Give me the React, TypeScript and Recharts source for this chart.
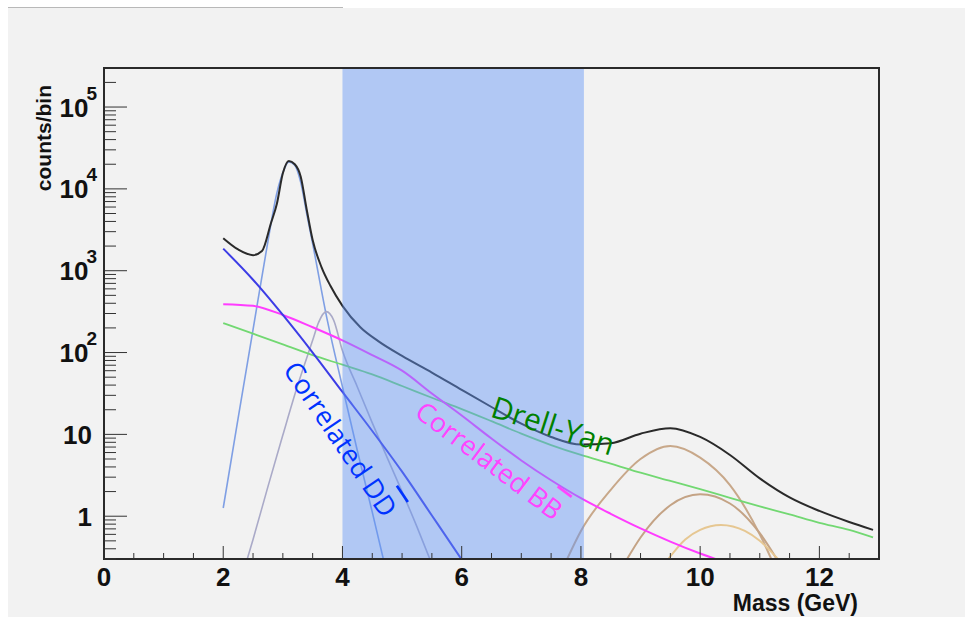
import React from "react";
import { ComposedChart, Line, XAxis, YAxis, ReferenceArea, ReferenceDot } from "recharts";

// ---- data (mass in GeV, counts/bin) ----
const totalSpectrum = [
  { m: 2.0, v: 2500 }, { m: 2.25, v: 1820 }, { m: 2.5, v: 1550 }, { m: 2.65, v: 1740 },
  { m: 2.8, v: 3800 }, { m: 2.9, v: 6600 }, { m: 3.0, v: 15500 }, { m: 3.1, v: 21900 },
  { m: 3.2, v: 20000 }, { m: 3.3, v: 14100 }, { m: 3.4, v: 5600 }, { m: 3.5, v: 2370 },
  { m: 3.65, v: 1100 }, { m: 3.8, v: 650 }, { m: 4.0, v: 372 }, { m: 4.3, v: 204 },
  { m: 4.6, v: 138 }, { m: 5.0, v: 91 }, { m: 5.5, v: 57 }, { m: 6.0, v: 35 },
  { m: 6.5, v: 21.6 }, { m: 7.0, v: 13.5 }, { m: 7.5, v: 9.3 }, { m: 8.0, v: 7.5 },
  { m: 8.5, v: 7.8 }, { m: 9.0, v: 10.2 }, { m: 9.5, v: 11.9 }, { m: 10.0, v: 9.3 },
  { m: 10.5, v: 5.6 }, { m: 11.0, v: 2.9 }, { m: 11.5, v: 1.7 }, { m: 12.0, v: 1.16 },
  { m: 12.5, v: 0.85 }, { m: 12.9, v: 0.68 },
];
const jpsiPeak = [
  { m: 2.0, v: 1.26 }, { m: 2.25, v: 15.8 }, { m: 2.5, v: 190 }, { m: 2.75, v: 2290 },
  { m: 2.9, v: 8900 }, { m: 3.0, v: 15800 }, { m: 3.1, v: 21400 }, { m: 3.2, v: 19500 },
  { m: 3.3, v: 12000 }, { m: 3.4, v: 5000 }, { m: 3.5, v: 2140 }, { m: 3.75, v: 240 },
  { m: 4.0, v: 38 }, { m: 4.25, v: 6.3 }, { m: 4.5, v: 1.12 }, { m: 4.75, v: 0.19 },
];
const psiPrimePeak = [
  { m: 2.4, v: 0.295 }, { m: 2.5, v: 0.52 }, { m: 2.75, v: 2.3 }, { m: 3.0, v: 9.8 },
  { m: 3.25, v: 40 }, { m: 3.5, v: 141 }, { m: 3.6, v: 234 }, { m: 3.73, v: 316 },
  { m: 3.85, v: 251 }, { m: 4.0, v: 105 }, { m: 4.25, v: 38 }, { m: 4.5, v: 13.8 },
  { m: 4.75, v: 5.2 }, { m: 5.0, v: 2.0 }, { m: 5.25, v: 0.74 }, { m: 5.5, v: 0.26 },
];
const correlatedDD = [
  { m: 2.0, v: 1860 }, { m: 2.5, v: 776 }, { m: 3.0, v: 288 }, { m: 3.5, v: 100 },
  { m: 4.0, v: 33 }, { m: 4.5, v: 11 }, { m: 5.0, v: 3.5 }, { m: 5.5, v: 1.02 },
  { m: 6.0, v: 0.295 }, { m: 6.5, v: 0.083 },
];
const correlatedBB = [
  { m: 2.0, v: 390 }, { m: 2.5, v: 372 }, { m: 3.0, v: 288 }, { m: 3.5, v: 204 },
  { m: 4.0, v: 141 }, { m: 4.5, v: 93 }, { m: 5.0, v: 60 }, { m: 5.5, v: 31.6 },
  { m: 6.0, v: 17 }, { m: 6.5, v: 8.9 }, { m: 7.0, v: 4.8 }, { m: 7.5, v: 2.75 },
  { m: 8.0, v: 1.66 }, { m: 8.5, v: 1.07 }, { m: 9.0, v: 0.71 }, { m: 9.5, v: 0.49 },
  { m: 10.0, v: 0.35 }, { m: 10.5, v: 0.26 },
];
const drellYan = [
  { m: 2.0, v: 229 }, { m: 2.5, v: 170 }, { m: 3.0, v: 126 }, { m: 3.5, v: 93 },
  { m: 4.0, v: 71 }, { m: 4.5, v: 54 }, { m: 5.0, v: 39 }, { m: 5.5, v: 28 },
  { m: 6.0, v: 20.4 }, { m: 6.5, v: 14.5 }, { m: 7.0, v: 10.2 }, { m: 7.5, v: 7.4 },
  { m: 8.0, v: 5.6 }, { m: 8.5, v: 4.4 }, { m: 9.0, v: 3.4 }, { m: 9.5, v: 2.7 },
  { m: 10.0, v: 2.14 }, { m: 10.5, v: 1.68 }, { m: 11.0, v: 1.32 }, { m: 11.5, v: 1.05 },
  { m: 12.0, v: 0.83 }, { m: 12.5, v: 0.68 }, { m: 12.9, v: 0.55 },
];
const upsilon1S = [
  { m: 7.75, v: 0.28 }, { m: 8.0, v: 0.66 }, { m: 8.5, v: 2.1 }, { m: 9.0, v: 5.0 },
  { m: 9.5, v: 7.2 }, { m: 10.0, v: 5.2 }, { m: 10.5, v: 2.4 }, { m: 11.0, v: 0.6 },
  { m: 11.3, v: 0.2 },
];
const upsilon2S = [
  { m: 8.75, v: 0.28 }, { m: 9.0, v: 0.55 }, { m: 9.5, v: 1.36 }, { m: 10.0, v: 1.85 },
  { m: 10.5, v: 1.43 }, { m: 11.0, v: 0.62 }, { m: 11.35, v: 0.25 },
];
const upsilon3S = [
  { m: 9.45, v: 0.29 }, { m: 9.75, v: 0.52 }, { m: 10.0, v: 0.68 }, { m: 10.35, v: 0.78 },
  { m: 10.75, v: 0.66 }, { m: 11.0, v: 0.5 }, { m: 11.4, v: 0.25 },
];

// ---- axes ----
const xDomain = [0, 13];
const yDomain = [0.3, 300000];
const xTicks = [0, 0.5, 1, 1.5, 2, 2.5, 3, 3.5, 4, 4.5, 5, 5.5, 6, 6.5, 7, 7.5, 8, 8.5, 9, 9.5, 10, 10.5, 11, 11.5, 12, 12.5];
const xLabeledTicks = [0, 2, 4, 6, 8, 10, 12];
const yTicks = [
  0.3, 0.4, 0.5, 0.6, 0.7, 0.8, 0.9,
  1, 2, 3, 4, 5, 6, 7, 8, 9,
  10, 20, 30, 40, 50, 60, 70, 80, 90,
  100, 200, 300, 400, 500, 600, 700, 800, 900,
  1000, 2000, 3000, 4000, 5000, 6000, 7000, 8000, 9000,
  10000, 20000, 30000, 40000, 50000, 60000, 70000, 80000, 90000,
  100000, 200000,
];
const yDecades = [1, 10, 100, 1000, 10000, 100000];
const yDecadeBase = ["1", "10", "10", "10", "10", "10"];
const yDecadeExp = ["", "", "2", "3", "4", "5"];
const massWindow = [4, 8.05];

const curveLabelText = ["Correlated D", "Correlated B", "Drell-Yan"];
const curveLabelBar = ["D", "B", ""];
const curveLabelAt = [
  { m: 3.98, v: 8.9 },
  { m: 6.47, v: 4.9 },
  { m: 7.54, v: 13.0 },
];

const AXIS_FONT = "'Liberation Sans', Arial, Helvetica, sans-serif";
const NOTE_FONT = "'Open Sans', 'Noto Sans', sans-serif";

const YTick = (props: any) => {
  const { x, y, payload } = props;
  const idx = yDecades.indexOf(payload.value);
  const major = idx >= 0;
  const exp = major ? yDecadeExp[idx] : "";
  return (
    <g>
      <line x1={x} x2={x + (major ? 23 : 12)} y1={y} y2={y} stroke="#333" strokeWidth={1} />
      {major && (
        <text
          x={exp ? x - 7 : x - 12}
          y={y + 9.5}
          textAnchor="end"
          fontFamily={AXIS_FONT}
          fontWeight="bold"
          fontSize={26}
          fill="#111"
        >
          {yDecadeBase[idx]}
          {exp ? (
            <tspan dx={-2} dy={-17} fontSize={19}>
              {exp}
            </tspan>
          ) : null}
        </text>
      )}
    </g>
  );
};

const XTick = (props: any) => {
  const { x, y, payload } = props;
  const major = xLabeledTicks.indexOf(payload.value) >= 0;
  return (
    <g>
      <line x1={x} x2={x} y1={y} y2={y - (major ? 13 : 6)} stroke="#333" strokeWidth={1} />
      {major && (
        <text x={x} y={y + 27} textAnchor="middle" fontFamily={AXIS_FONT} fontWeight="bold" fontSize={26} fill="#111">
          {payload.value}
        </text>
      )}
    </g>
  );
};

const makeNote = (i: number, color: string, angle: number, size: number) => (p: any) => {
  const vb = p.viewBox || {};
  const cx = (vb.x || 0) + (vb.width || 0) / 2;
  const cy = (vb.y || 0) + (vb.height || 0) / 2;
  return (
    <text
      x={cx}
      y={cy}
      textAnchor="middle"
      dominantBaseline="central"
      transform={`rotate(${angle}, ${cx}, ${cy})`}
      fontFamily={NOTE_FONT}
      fontSize={size}
      fill={color}
    >
      {curveLabelText[i]}
      {curveLabelBar[i] ? <tspan style={{ textDecoration: "overline" }}>{curveLabelBar[i]}</tspan> : null}
    </text>
  );
};

const MassLabel = (p: any) => {
  const vb = p.viewBox || {};
  return (
    <text x={vb.x + vb.width - 21} y={vb.y + 52} textAnchor="end" fontFamily={AXIS_FONT} fontWeight="bold" fontSize={23} fill="#111">
      Mass (GeV)
    </text>
  );
};

const CountsLabel = (p: any) => {
  const vb = p.viewBox || {};
  const x = vb.x + 51;
  const y = vb.y + 17;
  return (
    <text x={x} y={y} textAnchor="end" transform={`rotate(-90, ${x}, ${y})`} fontFamily={AXIS_FONT} fontWeight="bold" fontSize={21} fill="#111">
      counts/bin
    </text>
  );
};

const series = [
  { data: upsilon1S, color: "#c8a88a", w: 2 },
  { data: upsilon2S, color: "#c4a385", w: 2 },
  { data: upsilon3S, color: "#e6c792", w: 2 },
  { data: jpsiPeak, color: "#7f9fe4", w: 1.6 },
  { data: psiPrimePeak, color: "#aaaac8", w: 1.6 },
  { data: drellYan, color: "#72d872", w: 1.8 },
  { data: correlatedBB, color: "#ff3cff", w: 2 },
  { data: correlatedDD, color: "#3c3ce6", w: 2 },
  { data: totalSpectrum, color: "#2a2a2a", w: 2 },
];

export default function App() {
  return (
    <div style={{ position: "absolute", left: 0, top: 0, width: 966, height: 618, background: "#fff" }}>
      <div style={{ position: "absolute", left: 8, top: 8, width: 957, height: 609, background: "#f2f2f2" }} />
      <div style={{ position: "absolute", left: 8, top: 7, width: 335, height: 1, background: "#b8b8b8" }} />
      <div style={{ position: "absolute", left: 0, top: 0 }}>
        <ComposedChart width={966} height={618} margin={{ top: 68, right: 87, bottom: 0, left: 0 }}>
          <XAxis
            dataKey="m"
            type="number"
            domain={xDomain}
            ticks={xTicks}
            interval={0}
            allowDataOverflow
            height={59}
            tickSize={0}
            tickMargin={0}
            tickLine={false}
            axisLine={{ stroke: "#222", strokeWidth: 2 }}
            tick={<XTick />}
            label={<MassLabel />}
          />
          <YAxis
            type="number"
            scale="log"
            domain={yDomain}
            ticks={yTicks}
            interval={0}
            allowDataOverflow
            width={104}
            tickSize={0}
            tickMargin={0}
            tickLine={false}
            axisLine={{ stroke: "#222", strokeWidth: 2 }}
            tick={<YTick />}
            label={<CountsLabel />}
          />
          {series.map((s, i) => (
            <Line
              key={i}
              data={s.data}
              dataKey="v"
              type="monotone"
              stroke={s.color}
              strokeWidth={s.w}
              dot={false}
              activeDot={false}
              isAnimationActive={false}
            />
          ))}
          <ReferenceArea
            x1={massWindow[0]}
            x2={massWindow[1]}
            y1={yDomain[0]}
            y2={yDomain[1]}
            fill="#6295f7"
            fillOpacity={0.45}
            stroke="none"
            zIndex={500}
          />
          <ReferenceArea x1={xDomain[0]} x2={xDomain[1]} y1={yDomain[0]} y2={yDomain[1]} fill="none" stroke="#2a2a2a" strokeWidth={2} zIndex={510} />
          <ReferenceDot x={curveLabelAt[0].m} y={curveLabelAt[0].v} r={0} stroke="none" fill="none" zIndex={600} label={makeNote(0, "#0033ff", 56, 27)} />
          <ReferenceDot x={curveLabelAt[1].m} y={curveLabelAt[1].v} r={0} stroke="none" fill="none" zIndex={600} label={makeNote(1, "#ff44ff", 37, 27)} />
          <ReferenceDot x={curveLabelAt[2].m} y={curveLabelAt[2].v} r={0} stroke="none" fill="none" zIndex={600} label={makeNote(2, "#008000", 18, 30)} />
        </ComposedChart>
      </div>
    </div>
  );
}
